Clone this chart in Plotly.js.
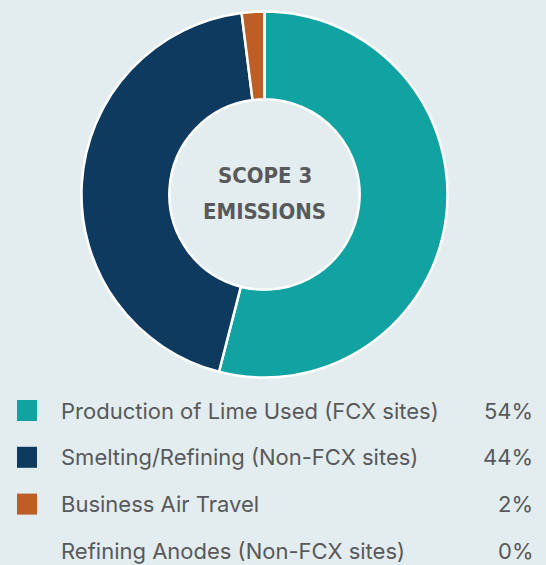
<!DOCTYPE html>
<html>
<head>
<meta charset="utf-8">
<script src="https://cdn.plot.ly/plotly-3.0.1.min.js"></script>
<style>html,body{margin:0;padding:0;background:#e3ecee;}#chart{width:546px;height:565px;}</style>
</head>
<body>
<div id="chart"></div>
<script>
const categories = ["Production of Lime Used (FCX sites)", "Smelting/Refining (Non-FCX sites)", "Business Air Travel", "Refining Anodes (Non-FCX sites)"];
const values = [54, 44, 2, 0];
const percentLabels = ["54%", "44%", "2%", "0%"];
const colors = ["#10a3a1", "#0f3a60", "#bc5e26", "rgba(0,0,0,0)"];
const centerTitleLines = ["SCOPE 3", "EMISSIONS"];

const W = 546, H = 565;
const bg = "#e3ecee";
const textColor = "#58595b";

const trace = {
  type: "pie",
  values: values,
  labels: categories,
  marker: { colors: colors, line: { color: "#ffffff", width: 2.5 } },
  hole: 0.52,
  sort: false,
  direction: "clockwise",
  rotation: 0,
  textinfo: "none",
  hoverinfo: "label+percent",
  showlegend: false,
  domain: { x: [81.5 / W, 447.5 / W], y: [1 - 377.5 / H, 1 - 11.5 / H] }
};

const annotations = [];
const titleY = [175, 211];
centerTitleLines.forEach((t, i) => {
  annotations.push({
    text: t, x: 264.5 / W, y: 1 - titleY[i] / H, xref: "paper", yref: "paper",
    showarrow: false, xanchor: "center", yanchor: "middle",
    font: { family: "DejaVu Sans Condensed, Liberation Sans Narrow, sans-serif", size: 22, color: textColor, weight: 700 }
  });
});

const rowY0 = 410.5, rowStep = 46.8;
const shapes = [];
categories.forEach((c, i) => {
  const yc = rowY0 + i * rowStep;
  annotations.push({
    text: c, x: 59 / W, y: 1 - yc / H, xref: "paper", yref: "paper",
    showarrow: false, xanchor: "left", yanchor: "middle",
    font: { family: "Inter", size: 22, color: textColor }
  });
  annotations.push({
    text: percentLabels[i], x: 535 / W, y: 1 - yc / H, xref: "paper", yref: "paper",
    showarrow: false, xanchor: "right", yanchor: "middle",
    font: { family: "Inter", size: 22, color: textColor }
  });
  if (values[i] > 0) {
    shapes.push({
      type: "rect", xref: "paper", yref: "paper",
      x0: 17 / W, x1: 37 / W, y0: 1 - (yc + 10.5) / H, y1: 1 - (yc - 10.5) / H,
      fillcolor: colors[i], line: { width: 0 }
    });
  }
});

const layout = {
  width: W, height: H,
  margin: { l: 0, r: 0, t: 0, b: 0 },
  paper_bgcolor: bg, plot_bgcolor: bg,
  showlegend: false,
  annotations: annotations,
  shapes: shapes
};

Plotly.newPlot("chart", [trace], layout, { displayModeBar: false, staticPlot: true });
</script>
</body>
</html>
